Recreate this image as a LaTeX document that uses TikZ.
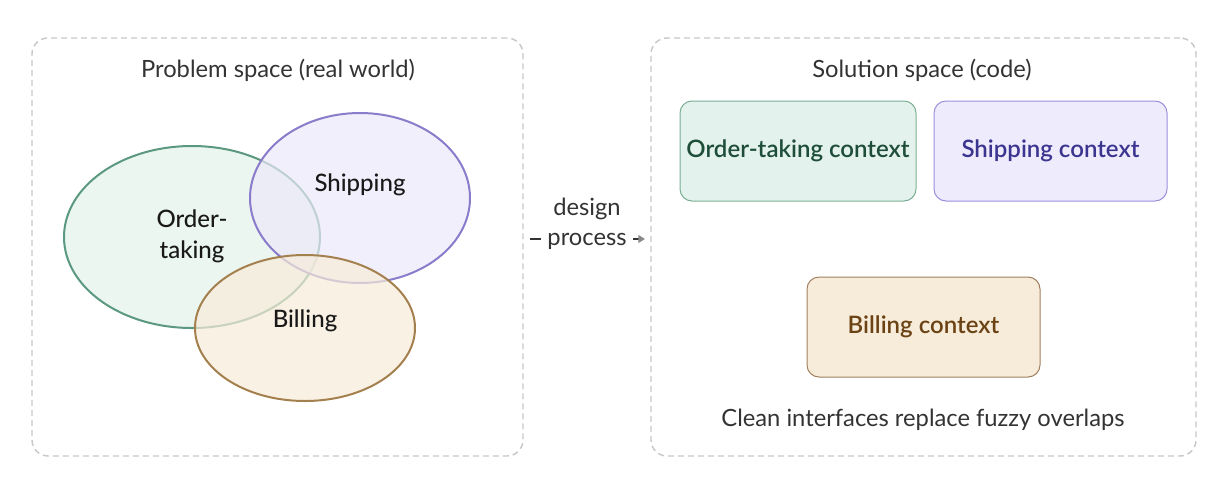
\documentclass[tikz,border=0pt]{standalone}
\usepackage{fontspec}
\setmainfont{Lato}
\newfontfamily\semifont{Lato Semibold}
\newfontfamily\medfont{Lato Medium}
\usetikzlibrary{shapes.geometric,arrows.meta,positioning}
\definecolor{spacegray}{HTML}{C8C8C8}
\definecolor{inkgray}{HTML}{333333}
\definecolor{tipgray}{HTML}{8A8A8A}
\definecolor{orderline}{HTML}{5A9880}
\definecolor{orderfill}{HTML}{E4F2EA}
\definecolor{shipline}{HTML}{8A7BCB}
\definecolor{shipfill}{HTML}{EBE8F9}
\definecolor{billline}{HTML}{A5804F}
\definecolor{billfill}{HTML}{F7EBD8}
\definecolor{orderbox}{HTML}{E3F2EC}
\definecolor{orderedge}{HTML}{7AAE95}
\definecolor{ordertext}{HTML}{1E4D3A}
\definecolor{shipbox}{HTML}{EDEBFC}
\definecolor{shipedge}{HTML}{9A8FDA}
\definecolor{shiptext}{HTML}{3B3590}
\definecolor{billbox}{HTML}{F7ECD9}
\definecolor{billedge}{HTML}{A08060}
\definecolor{billtext}{HTML}{6B4214}

\begin{document}
\begin{tikzpicture}[x=0.75pt,y=-0.75pt,
	space/.style={draw=spacegray,dash pattern=on 4.5pt off 3pt,line width=1.1pt,rounded corners=12pt},
	blob/.style={ellipse,line width=1.5pt,fill opacity=0.7,inner sep=0pt},
	blobtext/.style={font=\medfont\fontsize{18}{23}\selectfont,text=black!90,align=center},
	title/.style={font=\fontsize{17.8}{21}\selectfont,text=inkgray},
	ctx/.style={rounded corners=9pt,line width=0.75pt,minimum height=75pt,text depth=3pt,font=\semifont\fontsize{18}{21}\selectfont},
	flow/.style={draw=inkgray,line width=0.9pt,-{Triangle[length=5pt,width=6pt,color=tipgray]}}]
	\useasboundingbox (0,0) rectangle (1224,490);
						\node[space,minimum width=368.25pt,minimum height=313.5pt](problem) at (277.5,247){};
						\node[space,minimum width=408.75pt,minimum height=313.5pt](solution) at (923.5,247){};
						\node[title](problemtitle) at (278,70){Problem space (real world)};
						\node[title](solutiontitle) at (922,70){Solution space (code)};
						
						\node[blob,draw=orderline,fill=orderfill,minimum width=192pt,minimum height=136.5pt](order) at (192,237){};
						\node[blob,draw=shipline,fill=shipfill,minimum width=165pt,minimum height=127.5pt](shipping) at (360,198){};
						\node[blob,draw=billline,fill=billfill,minimum width=165pt,minimum height=109.5pt](billing) at (305,328){};
						\node[blobtext](ordertitle) at (192,236){Order-\\taking};
						\node[blobtext](shippingtitle) at (360,185){Shipping};
						\node[blobtext](billingtitle) at (305,321){Billing};
						
						\node[ctx,draw=orderedge,fill=orderbox,text=ordertext,minimum width=177pt](orderctx) at (798,151){Order-taking context};
						\node[ctx,draw=shipedge,fill=shipbox,text=shiptext,minimum width=174.75pt](shipctx) at (1050.5,151){Shipping context};
						\node[ctx,draw=billedge,fill=billbox,text=billtext,minimum width=174.75pt](billctx) at (923.5,327){Billing context};
						\node[title](caption) at (923,420){Clean interfaces replace fuzzy overlaps};
						
						\draw[flow,shorten <=5pt,shorten >=4pt] ([yshift=6pt]problem.east) -- node[title,fill=white,inner xsep=5pt,align=center,yshift=11.5pt,font=\fontsize{17.8}{22}\selectfont]{design\\process} ([yshift=6pt]solution.west);
					\end{tikzpicture}
\end{document}
